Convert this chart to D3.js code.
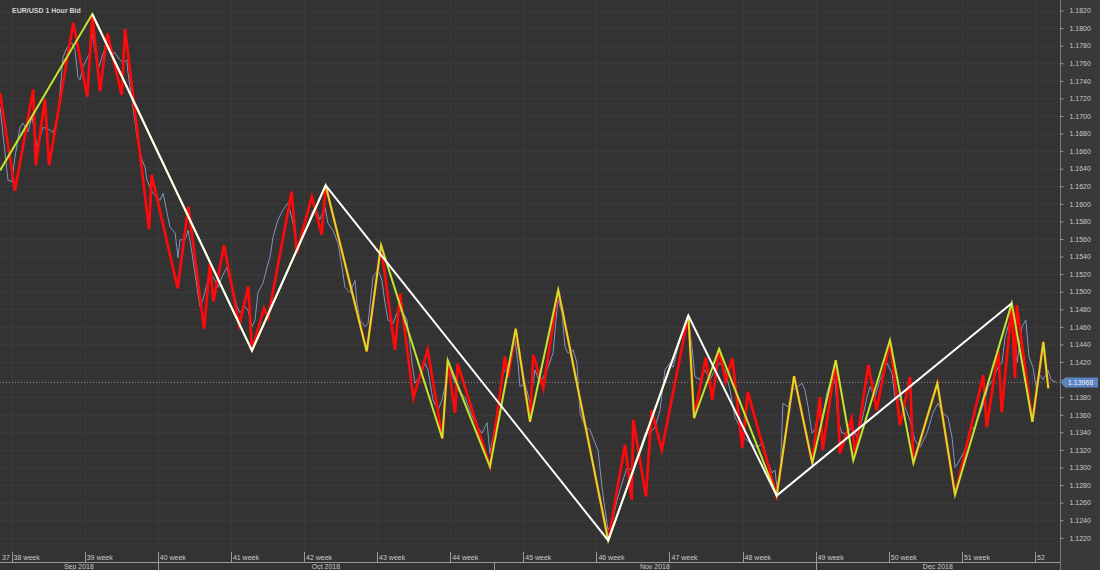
<!DOCTYPE html>
<html>
<head>
<meta charset="utf-8">
<script src="https://cdn.jsdelivr.net/npm/d3@7/dist/d3.min.js"></script>
<style>
    body { margin: 0; background: #333333; overflow: hidden; }
    svg { display: block; font-family: "Liberation Sans", Arial, sans-serif; }
</style>
</head>
<body>
<svg></svg>
<script>
/* global d3 */
var width = 1100,
    height = 570,
    plotRight = 1060,   // where the price scale starts
    plotBottom = 550,   // where the week / month rows start
    svg,
    plot,
    xScale,
    yScale;

var title = "EUR/USD  1 Hour Bid";
var lastPrice = 1.13968;

// x = trading days counted from Mon 17 Sep 2018 (start of week 38), y = bid
var hourlyBid = [
    [-0.79, 1.1710], [-0.25, 1.1627], [0.01, 1.1625], [0.23, 1.1653], [0.57, 1.1687], [0.78, 1.1692], [1.12, 1.1682],
    [1.40, 1.1699], [1.74, 1.1665], [2.15, 1.1687], [2.63, 1.1684], [2.83, 1.1681], [3.17, 1.1699], [3.52, 1.1767],
    [3.79, 1.1778], [4.13, 1.1783], [4.34, 1.1775], [4.54, 1.1744], [4.68, 1.1741], [4.88, 1.1756], [5.36, 1.1772],
    [5.50, 1.1794], [5.70, 1.1775], [5.91, 1.1752], [6.18, 1.1767], [6.53, 1.1783], [6.73, 1.1772], [7.07, 1.1772],
    [7.41, 1.1764], [7.62, 1.1760], [7.89, 1.1764], [7.96, 1.1749], [8.24, 1.1718], [8.58, 1.1676], [8.92, 1.1650],
    [9.12, 1.1642], [9.26, 1.1627], [9.47, 1.1619], [9.67, 1.1612], [10.15, 1.1604], [10.36, 1.1612], [10.63, 1.1590],
    [10.83, 1.1574], [11.18, 1.1567], [11.38, 1.1539], [11.52, 1.1559], [11.86, 1.1559], [12.07, 1.1570], [12.34, 1.1544],
    [12.68, 1.1505], [12.89, 1.1483], [13.09, 1.1491], [13.43, 1.1513], [13.78, 1.1517], [14.12, 1.1505], [14.39, 1.1517],
    [14.73, 1.1528], [14.94, 1.1513], [15.14, 1.1502], [15.42, 1.1483], [15.62, 1.1476], [15.96, 1.1483], [16.17, 1.1479],
    [16.44, 1.1460], [16.65, 1.1468], [16.85, 1.1499], [17.20, 1.1510], [17.47, 1.1528], [17.67, 1.1539], [17.88, 1.1562],
    [18.22, 1.1582], [18.56, 1.1593], [18.91, 1.1601], [19.25, 1.1578], [19.52, 1.1551], [19.86, 1.1562], [20.21, 1.1574],
    [20.55, 1.1590], [20.75, 1.1596], [21.09, 1.1582], [21.44, 1.1596], [21.64, 1.1578], [21.98, 1.1570], [22.33, 1.1555],
    [22.60, 1.1528], [22.80, 1.1505], [23.15, 1.1499], [23.49, 1.1513], [23.62, 1.1487], [23.83, 1.1468], [24.17, 1.1460],
    [24.38, 1.1464], [24.72, 1.1517], [25.06, 1.1525], [25.33, 1.1513], [25.54, 1.1487], [25.74, 1.1468], [26.09, 1.1464],
    [26.36, 1.1476], [26.70, 1.1479], [27.04, 1.1468], [27.39, 1.1419], [27.59, 1.1396], [27.93, 1.1403], [28.28, 1.1419],
    [28.48, 1.1411], [28.82, 1.1377], [29.17, 1.1365], [29.44, 1.1377], [29.78, 1.1403], [29.99, 1.1411], [30.33, 1.1396],
    [30.67, 1.1385], [31.01, 1.1380], [31.35, 1.1365], [31.70, 1.1351], [32.17, 1.1339], [32.52, 1.1351], [32.72, 1.1316],
    [32.93, 1.1335], [33.27, 1.1365], [33.54, 1.1403], [33.75, 1.1411], [34.09, 1.1414], [34.43, 1.1445], [34.64, 1.1419],
    [34.77, 1.1392], [35.12, 1.1396], [35.46, 1.1373], [35.80, 1.1411], [36.14, 1.1396], [36.62, 1.1411], [37.03, 1.1430],
    [37.37, 1.1491], [37.65, 1.1476], [37.85, 1.1437], [38.06, 1.1430], [38.40, 1.1434], [38.67, 1.1419], [38.88, 1.1362],
    [39.22, 1.1346], [39.56, 1.1343], [39.90, 1.1328], [40.11, 1.1320], [40.38, 1.1278], [40.59, 1.1252], [40.79, 1.1229],
    [41.07, 1.1237], [41.41, 1.1263], [41.75, 1.1282], [42.09, 1.1300], [42.43, 1.1297], [42.78, 1.1312], [43.12, 1.1328],
    [43.33, 1.1339], [43.67, 1.1339], [44.01, 1.1346], [44.35, 1.1365], [44.69, 1.1411], [45.03, 1.1419], [45.24, 1.1414],
    [45.58, 1.1437], [45.92, 1.1456], [46.26, 1.1471], [46.54, 1.1437], [46.74, 1.1403], [47.09, 1.1400], [47.43, 1.1411],
    [47.77, 1.1400], [48.11, 1.1411], [48.45, 1.1419], [48.80, 1.1411], [49.14, 1.1388], [49.48, 1.1357], [49.82, 1.1346],
    [50.03, 1.1335], [50.51, 1.1328], [50.99, 1.1323], [51.40, 1.1328], [51.74, 1.1305], [52.01, 1.1294], [52.22, 1.1297],
    [52.35, 1.1277], [52.56, 1.1286], [52.76, 1.1373], [53.11, 1.1369], [53.38, 1.1388], [53.79, 1.1392], [54.06, 1.1396],
    [54.27, 1.1388], [54.48, 1.1369], [54.75, 1.1339], [54.95, 1.1343], [55.16, 1.1362], [55.43, 1.1354], [55.77, 1.1385],
    [56.11, 1.1403], [56.32, 1.1400], [56.52, 1.1354], [56.80, 1.1339], [57.14, 1.1339], [57.48, 1.1346], [57.82, 1.1335],
    [58.17, 1.1354], [58.51, 1.1380], [58.71, 1.1392], [59.06, 1.1380], [59.40, 1.1400], [59.88, 1.1419], [60.22, 1.1407],
    [60.42, 1.1380], [60.77, 1.1377], [61.11, 1.1369], [61.45, 1.1354], [61.79, 1.1331], [62.13, 1.1323], [62.61, 1.1339],
    [63.02, 1.1362], [63.36, 1.1373], [63.71, 1.1362], [64.05, 1.1357], [64.32, 1.1335], [64.53, 1.1300], [64.73, 1.1305],
    [65.21, 1.1320], [65.55, 1.1343], [65.90, 1.1346], [66.24, 1.1362], [66.58, 1.1377], [66.79, 1.1392], [67.13, 1.1400],
    [67.47, 1.1414], [67.74, 1.1419], [67.95, 1.1448], [68.29, 1.1468], [68.50, 1.1456], [68.77, 1.1419], [69.11, 1.1460],
    [69.37, 1.1468], [69.59, 1.1426], [69.86, 1.1414], [70.07, 1.1392], [70.27, 1.1407], [70.55, 1.1400], [70.89, 1.1411],
    [71.09, 1.1400], [71.43, 1.1397]
];

// red zigzag (small swings)
var zigzagSmall = [
    [-0.79, 1.1726], [0.23, 1.1615], [1.48, 1.1730], [1.65, 1.1644], [2.28, 1.1719], [2.56, 1.1644], [4.22, 1.1806],
    [5.18, 1.1722], [5.52, 1.1815], [6.05, 1.1728], [6.55, 1.1794], [7.53, 1.1724], [7.76, 1.1799], [9.40, 1.1571],
    [9.58, 1.1633], [11.36, 1.1504], [12.09, 1.1597], [13.16, 1.1458], [13.57, 1.1532], [13.80, 1.1489], [14.53, 1.1553],
    [15.57, 1.1462], [16.19, 1.1506], [16.44, 1.1433], [17.26, 1.1481], [17.54, 1.1470], [19.16, 1.1614], [19.50, 1.1544],
    [20.53, 1.1608], [21.21, 1.1565], [21.48, 1.1621], [24.29, 1.1432], [25.27, 1.1553], [26.22, 1.1434], [26.57, 1.1498],
    [27.48, 1.1379], [28.46, 1.1434], [29.46, 1.1333], [29.83, 1.1422], [30.33, 1.1362], [30.51, 1.1418], [32.72, 1.1301],
    [33.75, 1.1426], [33.97, 1.1403], [34.48, 1.1458], [35.46, 1.1352], [35.68, 1.1428], [36.37, 1.1390], [37.39, 1.1502],
    [40.81, 1.1217], [41.96, 1.1326], [42.41, 1.1263], [42.52, 1.1354], [43.39, 1.1267], [43.78, 1.1365], [44.47, 1.1320],
    [46.29, 1.1473], [46.68, 1.1356], [47.48, 1.1425], [47.93, 1.1377], [48.39, 1.1435], [48.84, 1.1398], [49.30, 1.1424],
    [49.98, 1.1322], [50.35, 1.1386], [52.33, 1.1268], [53.52, 1.1404], [54.77, 1.1305], [55.29, 1.1380], [55.48, 1.1320],
    [56.37, 1.1422], [56.66, 1.1316], [57.46, 1.1356], [57.69, 1.1314], [58.60, 1.1417], [59.17, 1.1365], [60.08, 1.1445],
    [60.77, 1.1348], [61.45, 1.1403], [61.68, 1.1305], [63.32, 1.1396], [64.53, 1.1269], [66.46, 1.1405], [66.70, 1.1346],
    [67.49, 1.1434], [67.72, 1.1363], [68.41, 1.1485], [68.63, 1.1402], [68.75, 1.1485], [69.82, 1.1352], [70.57, 1.1443],
    [70.91, 1.1390]
];

// yellow-green zigzag (medium swings)
var zigzagMedium = [
    [-0.79, 1.1638], [5.52, 1.1816], [16.44, 1.1433], [21.48, 1.1621], [24.29, 1.1432], [25.27, 1.1553], [29.46, 1.1333],
    [29.83, 1.1422], [32.72, 1.1301], [34.48, 1.1458], [35.46, 1.1352], [37.39, 1.1502], [40.81, 1.1217], [46.29, 1.1473],
    [46.68, 1.1356], [48.39, 1.1435], [52.33, 1.1268], [53.52, 1.1404], [54.77, 1.1305], [56.37, 1.1422], [57.57, 1.1308],
    [60.08, 1.1445], [61.68, 1.1305], [63.32, 1.1396], [64.53, 1.1269], [68.41, 1.1487], [69.82, 1.1352], [70.57, 1.1443],
    [70.91, 1.1390]
];

// white zigzag (large swings)
var zigzagLarge = [
    [5.52, 1.1816], [16.44, 1.1433], [21.48, 1.1621], [40.81, 1.1217], [46.29, 1.1473], [52.33, 1.1268], [68.41, 1.1487]
];

var weekNumbers = [37, 38, 39, 40, 41, 42, 43, 44, 45, 46, 47, 48, 49, 50, 51, 52];
var weekStarts = [-5, 0, 5, 10, 15, 20, 25, 30, 35, 40, 45, 50, 55, 60, 65, 70];
var monthNames = ["Sep 2018", "Oct 2018", "Nov 2018", "Dec 2018"];
var monthStarts = [-15, 10, 33, 55];
var priceTicks = [
    1.1220, 1.1240, 1.1260, 1.1280, 1.1300, 1.1320, 1.1340, 1.1360, 1.1380, 1.1400, 1.1420,
    1.1440, 1.1460, 1.1480, 1.1500, 1.1520, 1.1540, 1.1560, 1.1580, 1.1600, 1.1620,
    1.1640, 1.1660, 1.1680, 1.1700, 1.1720, 1.1740, 1.1760, 1.1780, 1.1800, 1.1820
];

function init() {
    xScale = d3.scaleLinear()
            .domain([-0.7934, 71.71])
            .range([0, plotRight]);

    yScale = d3.scaleLinear()
            .domain([1.1220, 1.1820])
            .range([537.8, 10.5]);

    svg = d3.select("svg")
            .attr("width", width)
            .attr("height", height);

    svg.append("rect")
            .attr("width", width).attr("height", height)
            .attr("fill", "#333333");
    svg.append("rect")
            .attr("x", plotRight).attr("width", width - plotRight).attr("height", height)
            .attr("fill", "#393939");

    svg.append("defs").append("clipPath").attr("id", "plot-clip")
            .append("rect").attr("width", plotRight).attr("height", plotBottom);

    drawGrid();

    plot = svg.append("g").attr("clip-path", "url(#plot-clip)");

    // last price, dotted
    plot.append("line")
            .attr("x1", 0).attr("x2", plotRight)
            .attr("y1", Math.round(yScale(lastPrice)) + 0.5).attr("y2", Math.round(yScale(lastPrice)) + 0.5)
            .attr("stroke", "#8a8a8a").attr("stroke-width", 1).attr("stroke-dasharray", "1,2");

    drawLine(hourlyBid, "#8195bb", 1);
    drawLine(zigzagSmall, "#ff0a0a", 2.7);
    drawLine(zigzagMedium, "#c2e62c", 2);
    drawLine(zigzagLarge, "#ffffff", 2);

    svg.append("text")
            .attr("x", 12).attr("y", 13)
            .attr("fill", "#d2d2d2")
            .style("font-size", "7px").style("font-weight", "bold")
            .text(title);

    drawPriceAxis();
    drawTimeAxis();
}

function drawGrid() {
    var grid = svg.append("g");
    grid.selectAll("line.h").data(priceTicks).enter().append("line")
            .attr("x1", 0).attr("x2", plotRight)
            .attr("y1", function (d) { return Math.round(yScale(d)) + 0.5; })
            .attr("y2", function (d) { return Math.round(yScale(d)) + 0.5; })
            .attr("stroke", "#3a3a3a");
    grid.selectAll("line.v").data(weekStarts).enter().append("line")
            .attr("x1", function (d) { return Math.round(xScale(d)) + 0.5; })
            .attr("x2", function (d) { return Math.round(xScale(d)) + 0.5; })
            .attr("y1", 0).attr("y2", plotBottom)
            .attr("stroke", "#3a3a3a");
}

function drawLine(points, color, lineWidth) {
    var line = d3.line()
            .x(function (d) { return xScale(d[0]); })
            .y(function (d) { return yScale(d[1]); });

    plot.append("path")
            .datum(points)
            .attr("d", line)
            .attr("fill", "none")
            .attr("stroke", color)
            .attr("stroke-width", lineWidth)
            .attr("stroke-linejoin", "miter")
            .attr("stroke-miterlimit", 5);
}

function drawPriceAxis() {
    var y = yScale(lastPrice);

    var axis = svg.append("g")
            .attr("transform", "translate(" + (plotRight + 0.5) + ",0)")
            .call(d3.axisRight(yScale)
                    .tickValues(priceTicks)
                    .tickFormat(d3.format(".4f"))
                    .tickSize(3)
                    .tickPadding(6));

    axis.select(".domain").attr("stroke", "#7a7a7a").attr("d", "M0,0V" + height);
    axis.selectAll(".tick line").attr("stroke", "#9a9a9a");
    axis.selectAll(".tick text")
            .attr("fill", "#c8c8c8")
            .style("font-size", "7px")
            .style("font-family", "'Liberation Sans', Arial, sans-serif");

    // the last price tag sits on top of the nearest tick label
    axis.selectAll(".tick text")
            .filter(function (d) { return Math.abs(yScale(d) - y) < 8; })
            .remove();

    svg.append("path")
            .attr("d", "M" + (plotRight + 1) + "," + y + "L" + (plotRight + 5) + "," + (y - 5) +
                    "H1098V" + (y + 5) + "H" + (plotRight + 5) + "Z")
            .attr("fill", "#5d84c2");
    svg.append("text")
            .attr("x", plotRight + 8).attr("y", y + 2.5)
            .attr("fill", "#eef3ff")
            .style("font-size", "7px")
            .text(lastPrice.toFixed(5));
}

function drawTimeAxis() {
    var axis = svg.append("g");
    var rowLine = 562.5;

    axis.append("line")
            .attr("x1", 0).attr("x2", plotRight)
            .attr("y1", rowLine).attr("y2", rowLine)
            .attr("stroke", "#9a9a9a");

    weekNumbers.forEach(function (week, i) {
        var x0 = Math.max(xScale(weekStarts[i]), 0),
            x1 = Math.min(xScale(weekStarts[i] + 5), plotRight),
            xs = Math.round(xScale(weekStarts[i])) + 0.5;
        if (xs > 0) {
            axis.append("line")
                    .attr("x1", xs).attr("x2", xs)
                    .attr("y1", 552).attr("y2", rowLine)
                    .attr("stroke", "#9a9a9a");
        }
        axis.append("text")
                .attr("x", x0 + 2).attr("y", 560)
                .attr("fill", "#c8c8c8")
                .style("font-size", "7px")
                .text(x1 - x0 > 40 ? week + " week" : week);
    });

    monthNames.forEach(function (name, i) {
        var x0 = Math.max(xScale(monthStarts[i]), 0),
            x1 = i < monthNames.length - 1 ? xScale(monthStarts[i + 1]) : plotRight;
        if (x0 > 0) {
            axis.append("line")
                    .attr("x1", Math.round(x0) + 0.5).attr("x2", Math.round(x0) + 0.5)
                    .attr("y1", rowLine).attr("y2", height)
                    .attr("stroke", "#9a9a9a");
        }
        axis.append("text")
                .attr("x", (x0 + x1) / 2).attr("y", 569)
                .attr("text-anchor", "middle")
                .attr("fill", "#c8c8c8")
                .style("font-size", "7px")
                .text(name);
    });
}

init();
</script>
</body>
</html>
